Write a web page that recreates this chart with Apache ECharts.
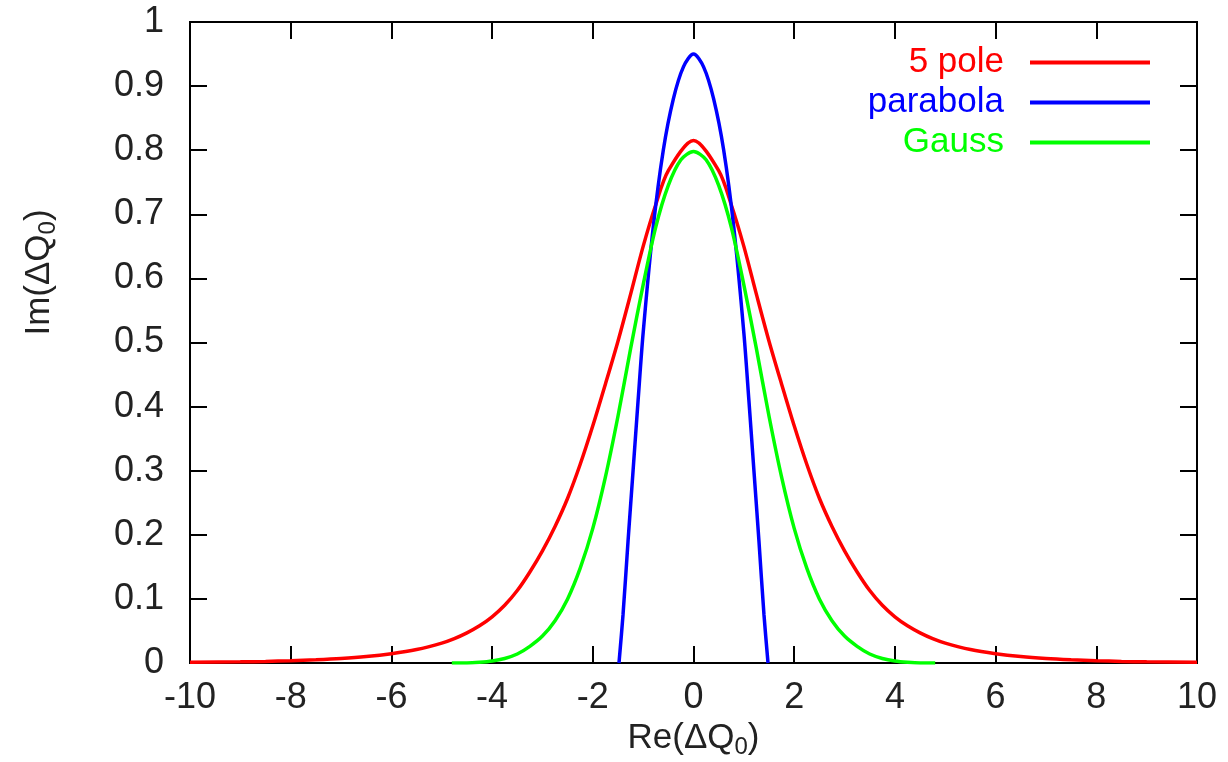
<!DOCTYPE html>
<html>
<head>
<meta charset="utf-8">
<script src="https://cdn.jsdelivr.net/npm/echarts@6/dist/echarts.min.js"></script>
<style>
html,body{margin:0;padding:0;background:#fff;}
#main{width:1228px;height:762px;}
</style>
</head>
<body>
<div id="main"></div>
<script>
// ---- data ----
const seriesNames = ['5 pole', 'parabola', 'Gauss'];

const poleX = [-10, -9, -8.5, -8, -7.5, -7, -6.5, -6, -5.5, -5, -4.75, -4.5, -4.25, -4, -3.75, -3.5, -3.25, -3, -2.75, -2.5, -2.25, -2, -1.75, -1.5, -1.25, -1, -0.75, -0.5, 0,
               0.5, 0.75, 1, 1.25, 1.5, 1.75, 2, 2.25, 2.5, 2.75, 3, 3.25, 3.5, 3.75, 4, 4.25, 4.5, 4.75, 5, 5.5, 6, 6.5, 7, 7.5, 8, 8.5, 9, 10];
const poleY = [0.001, 0.0018, 0.0025, 0.0035, 0.005, 0.007, 0.010, 0.0145, 0.021, 0.031, 0.038, 0.047, 0.058, 0.072, 0.090, 0.113, 0.142, 0.175, 0.213, 0.257, 0.310, 0.370, 0.435, 0.502, 0.575, 0.650, 0.715, 0.768, 0.815,
               0.768, 0.715, 0.650, 0.575, 0.502, 0.435, 0.370, 0.310, 0.257, 0.213, 0.175, 0.142, 0.113, 0.090, 0.072, 0.058, 0.047, 0.038, 0.031, 0.021, 0.0145, 0.010, 0.007, 0.005, 0.0035, 0.0025, 0.0018, 0.001];

const paraX = [-1.48, -1.4, -1.3, -1.2, -1.1, -1.0, -0.8, -0.6, -0.4, -0.2, 0, 0.2, 0.4, 0.6, 0.8, 1.0, 1.1, 1.2, 1.3, 1.4, 1.48];
const paraY = [0, 0.075, 0.19, 0.30, 0.41, 0.515, 0.68, 0.80, 0.88, 0.93, 0.95, 0.93, 0.88, 0.80, 0.68, 0.515, 0.41, 0.30, 0.19, 0.075, 0];

const gaussX = [-4.8, -4.5, -4.25, -4, -3.75, -3.5, -3.25, -3, -2.75, -2.5, -2.25, -2, -1.75, -1.5, -1.25, -1, -0.75, -0.5, -0.25, 0,
                0.25, 0.5, 0.75, 1, 1.25, 1.5, 1.75, 2, 2.25, 2.5, 2.75, 3, 3.25, 3.5, 3.75, 4, 4.25, 4.5, 4.8];
const gaussY = [0, 0, 0.001, 0.003, 0.007, 0.014, 0.026, 0.042, 0.066, 0.100, 0.148, 0.210, 0.290, 0.385, 0.490, 0.590, 0.680, 0.745, 0.785, 0.798,
                0.785, 0.745, 0.680, 0.590, 0.490, 0.385, 0.290, 0.210, 0.148, 0.100, 0.066, 0.042, 0.026, 0.014, 0.007, 0.003, 0.001, 0, 0];

const xTicks = {min: -10, max: 10, interval: 2};
const yTicks = {min: 0, max: 1, interval: 0.1};

// ---- chart ----
const zip = (xs, ys) => xs.map((x, i) => [x, ys[i]]);
const FONT = 'Liberation Sans';
const chart = echarts.init(document.getElementById('main'));

const tickStyle = {show: true, inside: true, length: 17, lineStyle: {color: '#000', width: 2}};
const lineStyle = {color: '#000', width: 2};
const legendColors = {'5 pole': '#ff0000', 'parabola': '#0000ff', 'Gauss': '#00ff00'};

chart.setOption({
  animation: false,
  backgroundColor: '#fff',
  grid: {left: 190, right: 31, top: 22, bottom: 99, show: true, borderColor: '#000', borderWidth: 2, containLabel: false, outerBoundsMode: 'none'},
  legend: {
    right: 73, top: 40, orient: 'vertical', align: 'right',
    itemWidth: 120, itemHeight: 4, icon: 'rect', itemGap: 5,
    data: seriesNames.map((n) => ({name: n, textStyle: {color: legendColors[n]}})),
    textStyle: {fontFamily: FONT, fontSize: 35, width: 200, align: 'right', lineHeight: 32, padding: [0, 21, 0, 0]}
  },
  xAxis: [{
    type: 'value', min: xTicks.min, max: xTicks.max, interval: xTicks.interval,
    axisLine: {show: true, onZero: false, lineStyle: lineStyle},
    axisTick: tickStyle, splitLine: {show: false},
    axisLabel: {fontFamily: FONT, fontSize: 36, color: '#222', margin: 17},
    name: '{a|Re(ΔQ}{s|0}{a|)}', nameLocation: 'middle', nameGap: 54,
    nameTextStyle: {rich: {a: {fontFamily: FONT, fontSize: 35, color: '#222'}, s: {fontFamily: FONT, fontSize: 24, color: '#222', padding: [18, 0, 0, 0]}}}
  }, {
    type: 'value', position: 'top', min: xTicks.min, max: xTicks.max, interval: xTicks.interval,
    axisLine: {show: true, onZero: false, lineStyle: lineStyle},
    axisTick: tickStyle, axisLabel: {show: false}, splitLine: {show: false}
  }],
  yAxis: [{
    type: 'value', min: yTicks.min, max: yTicks.max, interval: yTicks.interval,
    axisLine: {show: true, onZero: false, lineStyle: lineStyle},
    axisTick: tickStyle, splitLine: {show: false},
    axisLabel: {fontFamily: FONT, fontSize: 36, color: '#222', margin: 26},
    name: '{a|Im(ΔQ}{s|0}{a|)}', nameLocation: 'middle', nameGap: 130,
    nameTextStyle: {padding: [0, 0, 0, 140], rich: {a: {fontFamily: FONT, fontSize: 35, color: '#222'}, s: {fontFamily: FONT, fontSize: 24, color: '#222', padding: [18, 0, 0, 0]}}}
  }, {
    type: 'value', position: 'right', min: yTicks.min, max: yTicks.max, interval: yTicks.interval,
    axisLine: {show: true, onZero: false, lineStyle: lineStyle},
    axisTick: tickStyle, axisLabel: {show: false}, splitLine: {show: false}
  }],
  series: [
    {name: seriesNames[0], type: 'line', data: zip(poleX, poleY), showSymbol: false, smooth: 0.3, color: '#ff0000', lineStyle: {width: 3.5, color: '#ff0000'}},
    {name: seriesNames[1], type: 'line', data: zip(paraX, paraY), showSymbol: false, smooth: 0.3, color: '#0000ff', lineStyle: {width: 3.5, color: '#0000ff'}},
    {name: seriesNames[2], type: 'line', data: zip(gaussX, gaussY), showSymbol: false, smooth: 0.3, color: '#00ff00', lineStyle: {width: 3.5, color: '#00ff00'}}
  ]
});
</script>
</body>
</html>
